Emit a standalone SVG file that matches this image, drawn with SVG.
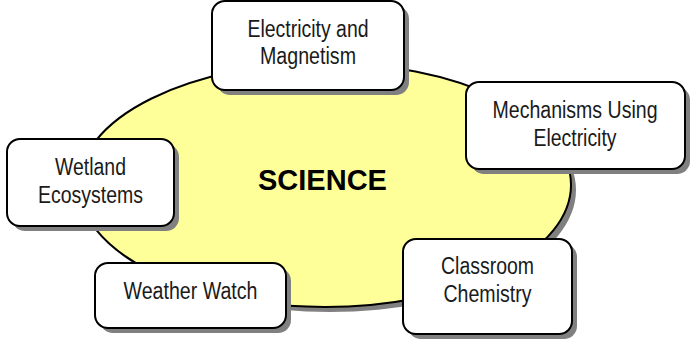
<svg xmlns="http://www.w3.org/2000/svg" width="698" height="344" viewBox="0 0 698 344">
<style>
.shadow{fill:#808080;stroke:none}
.box{fill:#ffffff;stroke:#000000;stroke-width:2}
.lbl{font-family:"Liberation Sans Narrow","Arial Narrow","Liberation Sans",Arial,sans-serif;font-size:23.5px;fill:#1a1a1a;text-anchor:middle}
.title{font-family:"Liberation Sans",Arial,sans-serif;font-size:29px;font-weight:bold;fill:#000000;text-anchor:middle}
</style>
<rect width="698" height="344" fill="#ffffff"/>
<g id="science">
<ellipse class="shadow" cx="330" cy="190" rx="246" ry="122"/>
<ellipse cx="325" cy="185" rx="246" ry="122" fill="#ffff99" stroke="#000000" stroke-width="2"/>
<text class="title" x="322.5" y="190">SCIENCE</text>
</g>
<g id="connectors"></g>
<g id="electricity-magnetism">
<rect class="shadow" x="217" y="6" width="192" height="89" rx="13"/>
<rect class="box" x="212" y="1" width="192" height="89" rx="13"/>
<text class="lbl" x="308" y="37" textLength="121" lengthAdjust="spacingAndGlyphs">Electricity and</text>
<text class="lbl" x="308" y="64" textLength="96" lengthAdjust="spacingAndGlyphs">Magnetism</text>
</g>
<g id="mechanisms">
<rect class="shadow" x="471" y="87" width="219" height="87" rx="13"/>
<rect class="box" x="466" y="82" width="219" height="87" rx="13"/>
<text class="lbl" x="575" y="118" textLength="165" lengthAdjust="spacingAndGlyphs">Mechanisms Using</text>
<text class="lbl" x="575" y="146" textLength="83" lengthAdjust="spacingAndGlyphs">Electricity</text>
</g>
<g id="wetland">
<rect class="shadow" x="12" y="144" width="167" height="87" rx="13"/>
<rect class="box" x="7" y="139" width="167" height="87" rx="13"/>
<text class="lbl" x="90.5" y="175" textLength="71" lengthAdjust="spacingAndGlyphs">Wetland</text>
<text class="lbl" x="90.5" y="203" textLength="105" lengthAdjust="spacingAndGlyphs">Ecosystems</text>
</g>
<g id="classroom">
<rect class="shadow" x="408" y="244" width="169" height="95" rx="13"/>
<rect class="box" x="403" y="239" width="169" height="95" rx="13"/>
<text class="lbl" x="487.5" y="274" textLength="93" lengthAdjust="spacingAndGlyphs">Classroom</text>
<text class="lbl" x="487.5" y="302" textLength="88" lengthAdjust="spacingAndGlyphs">Chemistry</text>
</g>
<g id="weather">
<rect class="shadow" x="100" y="268" width="191" height="65" rx="13"/>
<rect class="box" x="95" y="263" width="191" height="65" rx="13"/>
<text class="lbl" x="190.5" y="299" textLength="134" lengthAdjust="spacingAndGlyphs">Weather Watch</text>
</g>
</svg>
